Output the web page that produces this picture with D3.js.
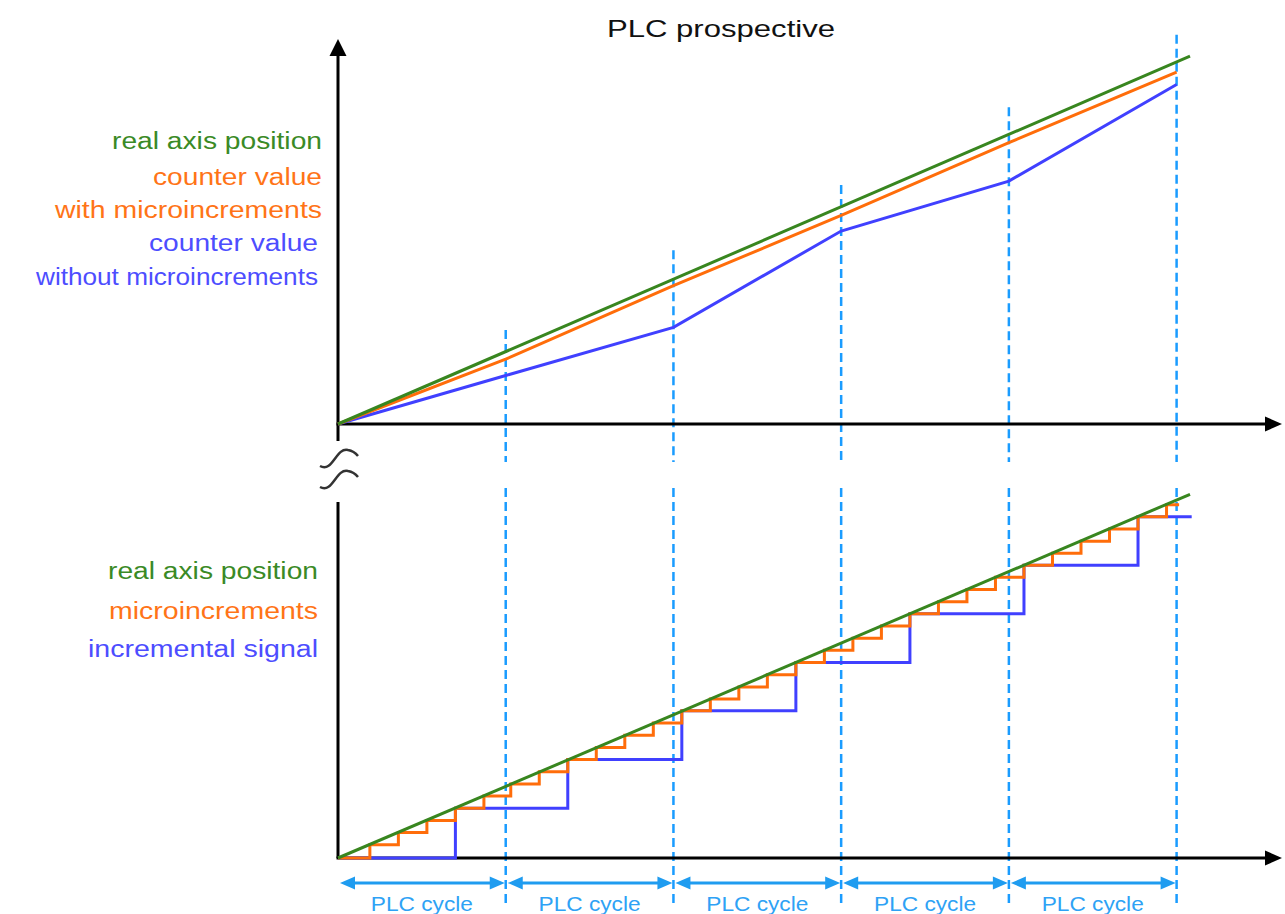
<!DOCTYPE html>
<html>
<head>
<meta charset="utf-8">
<script src="https://cdn.jsdelivr.net/npm/d3@7"></script>
<style>
  body { margin: 0; background: #fff; }
  text { font-family: "Liberation Sans", Arial, sans-serif; }
</style>
</head>
<body>
<svg width="1285" height="914"></svg>
<script>
// cycle boundaries (in PLC cycles)
var cycles = [0, 1, 2, 3, 4, 5];
var cycleLabel = "PLC cycle";

// top panel: position at each cycle boundary
var greenTimes = [0, 5.08];
var greenValues = [0, 101.6];
var topOrange = [0, 17.9, 38.2, 57.6, 77.7, 97.2];
var topBlue = [0, 13.4, 26.7, 53.3, 67.1, 93.8];
var guideTop = [26, 48, 66, 87.5, 107.5];

// bottom panel: microincrement steps and incremental signal steps
var microTimes = [0, 0.19, 0.36, 0.53, 0.70, 0.87, 1.03, 1.20, 1.37, 1.54, 1.71, 1.88, 2.05, 2.22, 2.39,
  2.56, 2.73, 2.90, 3.07, 3.24, 3.41, 3.58, 3.75, 3.92, 4.09, 4.26, 4.43, 4.60, 4.77, 4.94, 5.015];
var microValues = [0, 3.7, 7.1, 10.5, 13.9, 17.3, 20.7, 24.1, 27.5, 30.9, 34.3, 37.7, 41.1, 44.4, 47.8,
  51.2, 54.6, 58.0, 61.4, 64.8, 68.2, 71.6, 75.0, 78.4, 81.8, 85.1, 88.5, 91.9, 95.3, 98.7, 98.7];
var incTimes = [0, 0.70, 1.37, 2.05, 2.73, 3.41, 4.09, 4.77, 5.09];
var incValues = [0, 13.9, 27.5, 41.1, 54.6, 68.2, 81.8, 95.3, 95.3];

var topLegend = ["real axis position", "counter value", "with microincrements", "counter value", "without microincrements"];
var topLegendColors = ["#3a8a26", "#ff7417", "#ff7417", "#4d4dff", "#4d4dff"];
var botLegend = ["real axis position", "microincrements", "incremental signal"];
var botLegendColors = ["#3a8a26", "#ff7417", "#4d4dff"];

var GREEN = "#38861f", ORANGE = "#ff6d0a", BLUE = "#4040ff", GUIDE = "#1a9cff", CYCLE = "#1f9cf0";

drawVis();

function drawVis() {
  var svg = d3.select("svg");

  var x = d3.scaleLinear().domain([0, 5]).range([338, 1176.6]);
  var yTop = d3.scaleLinear().domain([0, 100]).range([424, 62]);
  var yBot = d3.scaleLinear().domain([0, 100]).range([858, 500]);

  // text boxes in the source are stretched, so fit each to its width
  function fitText(str, px, py, size, w, color, anchor) {
    var left = anchor == "end" ? px - w : (anchor == "middle" ? px - w / 2 : px);
    svg.append("text")
      .attr("x", left).attr("y", py)
      .attr("font-size", size)
      .attr("fill", color)
      .attr("textLength", w)
      .attr("lengthAdjust", "spacingAndGlyphs")
      .text(str);
  }

  // title
  fitText("PLC prospective", 721, 37, 24, 228, "#111", "middle");

  // dashed cycle guides
  var guides = svg.append("g").attr("stroke", GUIDE).attr("stroke-width", 2.5).attr("stroke-dasharray", "9,5");
  cycles.slice(1).forEach(function(c, i) {
    guides.append("line").attr("x1", x(c)).attr("x2", x(c)).attr("y1", yTop(guideTop[i])).attr("y2", 462);
    guides.append("line").attr("x1", x(c)).attr("x2", x(c)).attr("y1", 488).attr("y2", 906);
  });

  // axes
  var axes = svg.append("g").attr("stroke", "#000").attr("stroke-width", 3);
  axes.append("line").attr("x1", x(0)).attr("x2", x(0)).attr("y1", 441).attr("y2", 54);
  axes.append("line").attr("x1", x(0) - 1.5).attr("x2", 1267).attr("y1", yTop(0)).attr("y2", yTop(0));
  axes.append("line").attr("x1", x(0)).attr("x2", x(0)).attr("y1", 502).attr("y2", yBot(0));
  axes.append("line").attr("x1", x(0) - 1.5).attr("x2", 1267).attr("y1", yBot(0)).attr("y2", yBot(0));
  svg.append("path").attr("d", "M" + x(0) + ",39 L" + (x(0) - 8.5) + ",56 L" + (x(0) + 8.5) + ",56 Z");
  [yTop(0), yBot(0)].forEach(function(yy) {
    svg.append("path").attr("d", "M1282," + yy + " L1265," + (yy - 7.5) + " L1265," + (yy + 7.5) + " Z");
  });

  // axis break marks
  svg.append("g").attr("fill", "none").attr("stroke", "#333").attr("stroke-width", 2.5)
    .selectAll("path").data([0, 21]).enter().append("path")
    .attr("d", function(d) {
      return "M320," + (466 + d) + " C333," + (473 + d) + " 336," + (447 + d) + " 348," + (450 + d) +
        " Q354," + (451 + d) + " 358," + (456 + d);
    });

  // top panel lines
  var lineTop = d3.line().x(function(d) { return x(d[0]); }).y(function(d) { return yTop(d[1]); });
  svg.append("path").attr("d", lineTop(d3.zip(cycles, topBlue)))
    .attr("fill", "none").attr("stroke", BLUE).attr("stroke-width", 3);
  svg.append("path").attr("d", lineTop(d3.zip(cycles, topOrange)))
    .attr("fill", "none").attr("stroke", ORANGE).attr("stroke-width", 3);
  svg.append("path").attr("d", lineTop(d3.zip(greenTimes, greenValues)))
    .attr("fill", "none").attr("stroke", GREEN).attr("stroke-width", 3);

  // bottom panel staircases
  var stepBot = d3.line().curve(d3.curveStepAfter)
    .x(function(d) { return x(d[0]); }).y(function(d) { return yBot(d[1]); });
  var lineBot = d3.line().x(function(d) { return x(d[0]); }).y(function(d) { return yBot(d[1]); });
  svg.append("path").attr("d", stepBot(d3.zip(incTimes, incValues)))
    .attr("fill", "none").attr("stroke", BLUE).attr("stroke-width", 3);
  svg.append("path").attr("d", stepBot(d3.zip(microTimes, microValues)))
    .attr("fill", "none").attr("stroke", ORANGE).attr("stroke-width", 3);
  svg.append("path").attr("d", lineBot(d3.zip(greenTimes, greenValues)))
    .attr("fill", "none").attr("stroke", GREEN).attr("stroke-width", 3);

  // legends
  var topW = [210, 169, 267, 169, 282];
  topLegend.forEach(function(s, i) {
    fitText(s, i < 3 ? 322 : 318, [149, 185, 218, 251, 285][i], 23, topW[i], topLegendColors[i], "end");
  });
  var botW = [210, 209, 230];
  botLegend.forEach(function(s, i) {
    fitText(s, 318, [579, 619, 657][i], 23, botW[i], botLegendColors[i], "end");
  });

  // PLC cycle arrows
  var arr = svg.append("g");
  d3.pairs(cycles).forEach(function(p) {
    var x0 = x(p[0]) + 2, x1 = x(p[1]) - 1, yy = 883;
    arr.append("line").attr("x1", x0 + 10).attr("x2", x1 - 10).attr("y1", yy).attr("y2", yy)
      .attr("stroke", CYCLE).attr("stroke-width", 3);
    arr.append("path").attr("fill", CYCLE)
      .attr("d", "M" + x0 + "," + yy + " L" + (x0 + 15) + "," + (yy - 6.5) + " L" + (x0 + 15) + "," + (yy + 6.5) + " Z");
    arr.append("path").attr("fill", CYCLE)
      .attr("d", "M" + x1 + "," + yy + " L" + (x1 - 15) + "," + (yy - 6.5) + " L" + (x1 - 15) + "," + (yy + 6.5) + " Z");
    fitText(cycleLabel, (x(p[0]) + x(p[1])) / 2, 911, 21, 102, "#2ea2f5", "middle");
  });
}
</script>
</body>
</html>
